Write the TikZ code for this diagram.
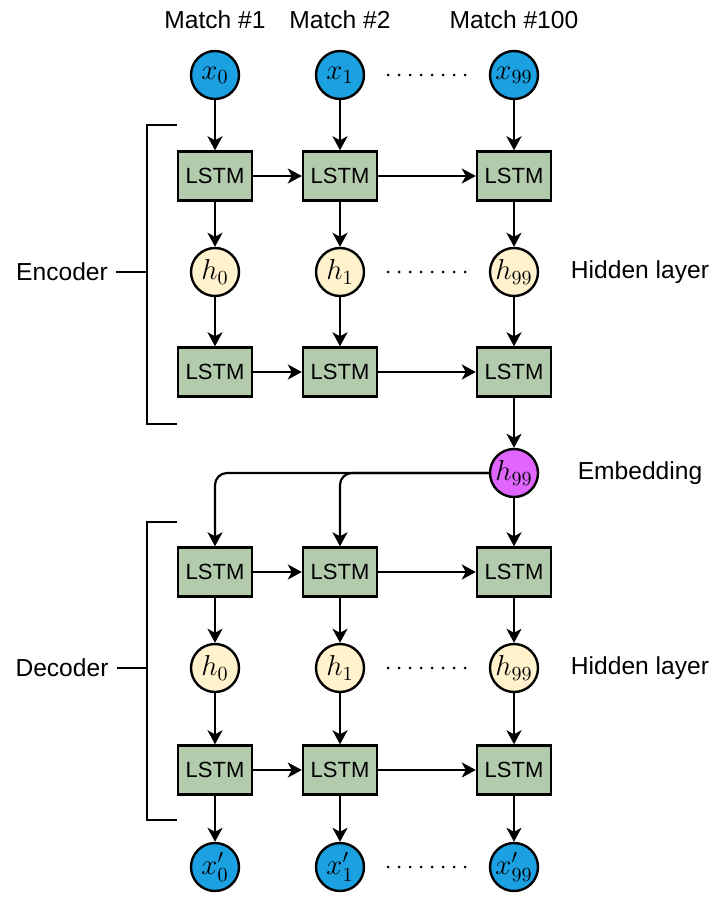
\documentclass[tikz,border=0pt]{standalone}
\usepackage[no-math]{fontspec}
\setmainfont{Liberation Sans}
\usetikzlibrary{arrows.meta}
\definecolor{inblue}{HTML}{1BA1E2}
\definecolor{lstmgreen}{HTML}{B3CBAD}
\definecolor{hidyellow}{HTML}{FFF2CC}
\definecolor{embpink}{HTML}{E066FF}

\begin{document}
\begin{tikzpicture}[
      x=0.5pt, y=-0.5pt,
      cell/.style={draw, line width=1.2pt, fill=lstmgreen, minimum width=37pt,
        minimum height=24.5pt, inner sep=0pt, font=\fontsize{11}{13}\selectfont},
      unit/.style={circle, draw, line width=1.2pt, fill=#1, minimum size=24pt,
        inner sep=0pt, font=\fontsize{14}{16}\selectfont},
      unit/.default=inblue,
      lbl/.style={font=\fontsize{12.3}{14}\selectfont, inner sep=4pt},
      flow/.style={line width=1.1pt, -{Stealth[length=7pt,width=7.5pt,inset=2pt]}},
      dots/.style={line width=1.5pt, dash pattern=on 0pt off 5.5pt, line cap=round,
        shorten <=11.5pt, shorten >=11.5pt},
      brace/.style={line width=1.1pt}]
    \useasboundingbox (0,0) rectangle (713,898);
    % columns: match 1, match 2, match 100
    \foreach \i/\cx in {0/215,1/340,99/514} {
      \node[unit] (x\i) at (\cx,75) {$x_{\i}$};
      \node[cell] (e\i) at (\cx,176) {LSTM};
      \node[unit=hidyellow] (h\i) at (\cx,272) {$h_{\i}$};
      \node[cell] (f\i) at (\cx,372) {LSTM};
      \node[cell] (d\i) at (\cx,572) {LSTM};
      \node[unit=hidyellow] (g\i) at (\cx,668) {$h_{\i}$};
      \node[cell] (o\i) at (\cx,770) {LSTM};
      \node[unit] (y\i) at (\cx,867) {$x'_{\i}$};
      \draw[flow] (x\i) -- (e\i);
      \draw[flow] (e\i) -- (h\i);
      \draw[flow] (h\i) -- (f\i);
      \draw[flow] (d\i) -- (g\i);
      \draw[flow] (g\i) -- (o\i);
      \draw[flow] (o\i) -- (y\i);
    }
    \node[unit=embpink] (emb) at (514,473) {$h_{99}$};

    \node[lbl] (m1) at (215,20) {Match \#1};
    \node[lbl] (m2) at (340,20) {Match \#2};
    \node[lbl] (m100) at (514,20) {Match \#100};
    \node[lbl] (hl1) at (640,272) {Hidden layer};
    \node[lbl] (embl) at (640,473) {Embedding};
    \node[lbl] (hl2) at (640,668) {Hidden layer};
    \node[lbl] (enc) at (62,272) {Encoder};
    \node[lbl] (dec) at (62,668) {Decoder};

    % recurrent links
    \foreach \r in {e,f,d,o} {
      \draw[flow] (\r0) -- (\r1);
      \draw[flow] (\r1) -- (\r99);
    }
    \draw[flow] (f99) -- (emb);
    \draw[flow] (emb) -- (d99);
    \draw[flow, rounded corners=6pt] (emb.west) -| (d0.north);
    \draw[flow, rounded corners=6pt] (emb.west) -| (d1.north);

    \foreach \a/\b in {x1/x99,h1/h99,g1/g99,y1/y99}
      \draw[dots] (\a) -- (\b);

    % brackets
    \coordinate (encbar) at (147,272);
    \coordinate (decbar) at (147,668);
    \draw[brace] (177,125) -| (147,424) -- (177,424);
    \draw[brace] (177,522) -| (147,820) -- (177,820);
    \draw[brace] (enc) -- (encbar);
    \draw[brace] (dec) -- (decbar);
\end{tikzpicture}
\end{document}
